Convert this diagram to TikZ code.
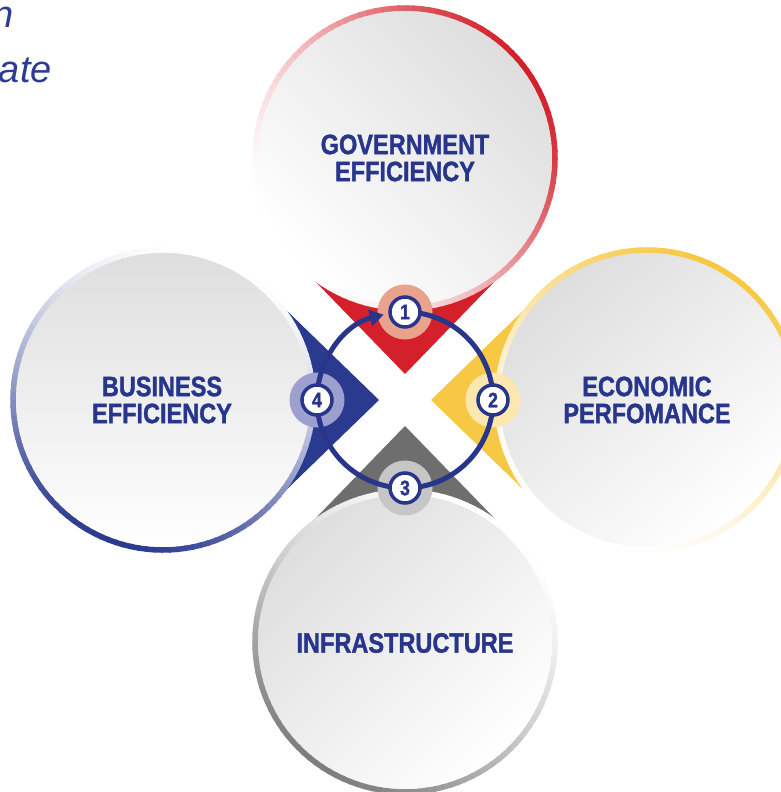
\documentclass[tikz,border=0pt]{standalone}
\usepackage{fontspec}
\setmainfont{Liberation Sans}
\newfontfamily\lab[FakeStretch=0.84,FakeBold=1.3]{Liberation Sans Bold}
\usetikzlibrary{arrows.meta,calc}
\definecolor{navy}{HTML}{27358B}
\definecolor{tblue}{HTML}{2D3B92}
\definecolor{cred}{HTML}{D3202A}
\definecolor{cyel}{HTML}{F7C843}
\definecolor{cgray}{HTML}{6E6E6E}
\definecolor{cblue}{HTML}{2A3A8F}
\definecolor{rgray}{HTML}{7E7E7E}
\definecolor{hred}{HTML}{E9A28C}
\definecolor{hyel}{HTML}{FCE7AE}
\definecolor{hgray}{HTML}{C6C6C6}
\definecolor{hblue}{HTML}{9D9FCE}
\tikzset{
  label/.style={align=center, text=navy, inner sep=0pt,
    font=\lab\fontsize{28}{27}\selectfont},
  badge/.style={circle, draw=navy, line width=3.5pt, fill=white,
    minimum size=30pt, inner sep=0pt, text=navy,
    font=\lab\fontsize{21}{21}\selectfont},
  halo/.style={circle, minimum size=55pt, inner sep=0pt},
  loopline/.style={draw=navy, line width=5pt}
}
\begin{document}
\begin{tikzpicture}[x=1pt,y=-1pt]
\useasboundingbox (0,0) rectangle (780,792);
\fill[white] (0,0) rectangle (780,792);

% cut-off title text
\node[anchor=base east, inner sep=0pt, text=tblue,
  font=\itshape\fontsize{38}{38}\selectfont] (t1) at (14,28) {n};
\node[anchor=base east, inner sep=0pt, text=tblue,
  font=\itshape\fontsize{38}{38}\selectfont] (t2) at (52,82) {ate};

% chevrons
\foreach \t/\c in {-90/cred,0/cyel,90/cgray,180/cblue}
  \fill[\c, shift={(405,400)}] (\t:26) -- (\t+37.4:154.8) -- (\t+26.4:162)
     -- (\t-26.4:162) -- (\t-37.4:154.8) -- cycle;

% circles
\foreach \x/\y/\c/\d/\s in {405/158/cred/-35/-45, 647/400/cyel/-60/40,
                            405/642/rgray/125/45, 163/400/cblue/110/0}{
  \shade[top color=black!13, middle color=black!3, bottom color=white,
         shading angle=\s]
     (\x,\y) circle (150);
  \foreach \a in {0,3,...,357}{
    \pgfmathsetmacro\p{100*((1+cos(\a+1.5-\d))/2)^1.4}
    \draw[line width=5.5pt, color=\c!\p!white]
      (\x,\y) ++(\a:150) arc[start angle=\a, end angle=\a+3.8, radius=150];
  }
}

% labels
\node[label] (gov) at (405,158) {GOVERNMENT\\EFFICIENCY};
\node[label] (eco) at (647,400) {ECONOMIC\\PERFOMANCE};
\node[label] (inf) at (405,643) {INFRASTRUCTURE};
\node[label] (bus) at (162,400) {BUSINESS\\EFFICIENCY};

% halos
\node[halo, fill=hred] (h1) at (405,312) {};
\node[halo, fill=hyel] (h2) at (493,400) {};
\node[halo, fill=hgray] (h3) at (405,488) {};
\node[halo, fill=hblue] (h4) at (317,400) {};

% loop
\coordinate (c) at (405,400);
\draw[loopline, -{Triangle[length=14pt,width=16pt]}]
  (c) ++(-90:88) arc[start angle=-90, end angle=256, radius=88];

% badges
\node[badge] (b1) at (405,312) {1};
\node[badge] (b2) at (493,400) {2};
\node[badge] (b3) at (405,488) {3};
\node[badge] (b4) at (317,400) {4};
\end{tikzpicture}
\end{document}
